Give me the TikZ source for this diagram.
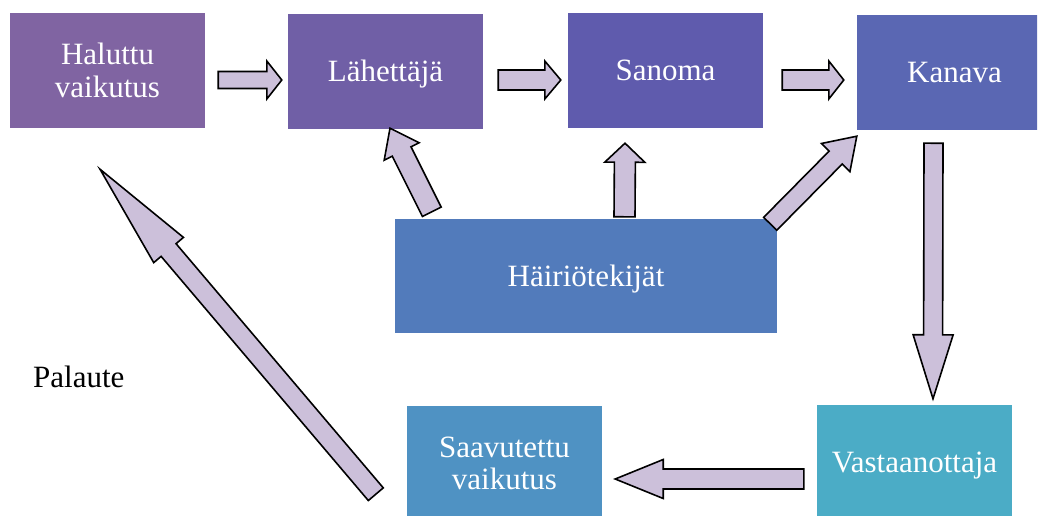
\documentclass[tikz,border=0pt]{standalone}
\usepackage{fontspec}
\setmainfont{Liberation Serif}
\usetikzlibrary{calc}

\definecolor{cHal}{HTML}{8064A2}
\definecolor{cLeh}{HTML}{705FA6}
\definecolor{cSan}{HTML}{5F5BAD}
\definecolor{cKan}{HTML}{5A67B3}
\definecolor{cHai}{HTML}{527BBB}
\definecolor{cSaa}{HTML}{4F92C3}
\definecolor{cVas}{HTML}{4BACC6}
\definecolor{cArrow}{HTML}{CCC0DA}

\tikzset{
  box/.style={rectangle, inner sep=0pt, minimum width=195pt, minimum height=115pt,
    text=white, align=center, font=\fontsize{31}{32.5}\selectfont},
  oneline/.style={text height=20pt, text depth=0pt},
  barrow/.style={fill=cArrow, draw=black, line width=1.6pt, line join=miter},
  plain/.style={inner sep=0pt, font=\fontsize{31}{32.5}\selectfont}
}

% block arrow: start, tip, shaft half-width, head half-width, head length
\newcommand\blockarrow[5]{%
  \coordinate (ah) at ($(#2)!#5!(#1)$);
  \draw[barrow] ($(#1)!#3!90:(#2)$) -- ($(ah)!#3!90:(#2)$) -- ($(ah)!#4!90:(#2)$)
    -- (#2) -- ($(ah)!#4!-90:(#2)$) -- ($(ah)!#3!-90:(#2)$) -- ($(#1)!#3!-90:(#2)$) -- cycle;
}

\begin{document}
\begin{tikzpicture}[x=1pt, y=-1pt]
\useasboundingbox (0,0) rectangle (1042,515);

% boxes
\node[box, fill=cHal] (hal) at (107.5,70.5) {Haluttu\\vaikutus};
\node[box, oneline, fill=cLeh] (leh) at (385.5,71.5) {Lähettäjä};
\node[box, oneline, fill=cSan] (san) at (665.5,70.5) {Sanoma};
\begin{scope}
  \clip (0,0) rectangle (1037,515);
  \node[box, oneline, fill=cKan] (kan) at (954.5,72.5) {Kanava};
\end{scope}
\node[box, oneline, fill=cHai, minimum width=382pt, minimum height=114pt] (hai) at (586,276) {Häiriötekijät};
\node[box, oneline, fill=cVas] (vas) at (914.5,462.5) {Vastaanottaja};
\node[box, fill=cSaa] (saa) at (504.5,463.5) {Saavutettu\\vaikutus};
\node[plain, anchor=base west] (pal) at (33,387) {Palaute};

% arrow end points, placed relative to the boxes
\coordinate (s1) at ($(hal.east)+(13,9.5)$);
\coordinate (t1) at ($(leh.west)+(-6,8.5)$);
\coordinate (s2) at ($(leh.east)+(15,8.5)$);
\coordinate (t2) at ($(san.west)+(-7,9.5)$);
\coordinate (s3) at ($(san.east)+(19,9.5)$);
\coordinate (t3) at ($(kan.west)+(-13,7.5)$);
\coordinate (s4) at ($(kan.south)+(-21,13)$);
\coordinate (t4) at ($(vas.north)+(18.5,-6)$);
\coordinate (s5) at ($(vas.west)+(-13,16.5)$);
\coordinate (t5) at ($(saa.east)+(13,15.5)$);
\coordinate (s6) at ($(hai.north)+(38.5,-2)$);
\coordinate (t6) at ($(san.south)+(-40.5,15)$);
\coordinate (s7) at ($(hai.north west)+(37,-7)$);
\coordinate (t7) at ($(leh.south)+(4.5,-1)$);
\coordinate (s8) at ($(hai.north east)+(-7,5)$);
\coordinate (t8) at ($(kan.south west)+(0,6)$);
\coordinate (s9) at ($(saa.south west)+(-31,-27)$);
\coordinate (t9) at ($(hal.south)+(-7.5,41)$);

% arrows
\blockarrow{s1}{t1}{8.5pt}{19pt}{15pt}
\blockarrow{s2}{t2}{10pt}{19pt}{16pt}
\blockarrow{s3}{t3}{10pt}{19pt}{15pt}
\blockarrow{s4}{t4}{9.5pt}{20pt}{64pt}
\blockarrow{s5}{t5}{10pt}{19.5pt}{48pt}
\blockarrow{s6}{t6}{10.5pt}{20pt}{19pt}
\blockarrow{s7}{t7}{10.5pt}{19.5pt}{26pt}
\blockarrow{s8}{t8}{9.2pt}{20pt}{30pt}
\blockarrow{s9}{t9}{9.8pt}{19.5pt}{106pt}
\end{tikzpicture}
\end{document}
